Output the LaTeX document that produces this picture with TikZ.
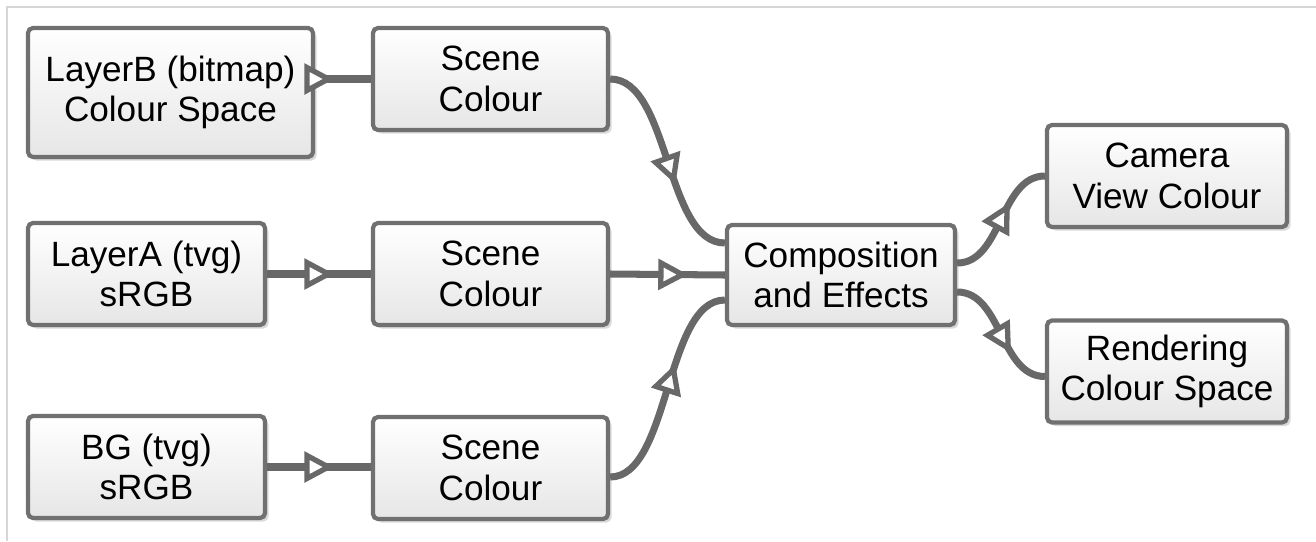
\documentclass[tikz,border=0pt]{standalone}
\usepackage{fontspec}
\setmainfont{Liberation Sans}
\usetikzlibrary{decorations.markings,shadows}
\definecolor{lineg}{HTML}{686868}
\definecolor{edgeg}{HTML}{707070}
\definecolor{fillbot}{HTML}{E6E6E6}
\definecolor{frameg}{HTML}{D6D6D6}

\begin{document}
\begin{tikzpicture}[
    box/.style={draw=edgeg, line width=2.4pt, rounded corners=0.1cm,
      top color=white, bottom color=fillbot, align=center, inner sep=0pt,
      minimum height=2.04cm, font=\fontsize{20}{23}\selectfont,
      drop shadow={shadow xshift=0.07cm, shadow yshift=-0.07cm,
        fill=black, opacity=0.15}},
    link/.style={draw, color=lineg, line width=4pt},
    tri/.style={postaction={decorate}, decoration={markings,
      mark=at position #1 with {\draw[lineg, fill=white, line width=3pt]
        (-0.05,0) -- (-0.48,0.23) -- (-0.48,-0.23) -- cycle;}}}]
  \useasboundingbox (0,0) rectangle (26.32,-10.82);
  \draw[frameg, line width=1.2pt] (0.14,-10.82) -- (0.14,-0.14) -- (26.32,-0.14);

  \node[box, minimum width=5.7cm, minimum height=2.58cm] (lb) at (3.41,-1.85)
    {LayerB (bitmap)\\Colour Space};
  \node[box, minimum width=4.74cm] (la) at (2.93,-5.48) {LayerA (tvg)\\sRGB};
  \node[box, minimum width=4.74cm] (bg) at (2.93,-9.34) {BG (tvg)\\sRGB};
  \foreach \n/\y in {1/-1.58, 2/-5.48, 3/-9.36}
    \node[box, minimum width=4.7cm] (sc\n) at (9.81,\y) {Scene\\Colour};
  \node[box, minimum width=4.56cm, minimum height=2cm] (comp) at (16.82,-5.5)
    {Composition\\and Effects};
  \node[box, minimum width=4.8cm] (cam) at (23.34,-3.52) {Camera\\View Colour};
  \node[box, minimum width=4.8cm] (rend) at (23.34,-7.43)
    {Rendering\\Colour Space};

  \draw[link, tri=-0.8cm] (lb.east |- sc1.west) -- (sc1.west);
  \foreach \a/\b in {la/sc2, bg/sc3}
    \draw[link, tri=-0.8cm] (\a.east) -- (\a.east -| \b.west);
  \draw[link, tri=-0.8cm] (sc2.east) -- (comp.west);
  \draw[link, tri=0.6] (sc1.east) .. controls +(1.2,0) and +(-1.2,0)
    .. ([yshift=0.64cm]comp.west);
  \draw[link, tri=0.6] ([yshift=-0.18cm]sc3.east) .. controls +(1.2,0)
    and +(-1.2,0) .. ([yshift=-0.5cm]comp.west);
  \draw[link, tri=0.62] ([yshift=0.24cm]comp.east) .. controls +(0.9,0)
    and +(-0.9,0) .. (cam.west);
  \draw[link, tri=0.64] ([yshift=-0.34cm]comp.east) .. controls +(0.9,0)
    and +(-0.9,0) .. ([yshift=-0.1cm]rend.west);
\end{tikzpicture}
\end{document}
